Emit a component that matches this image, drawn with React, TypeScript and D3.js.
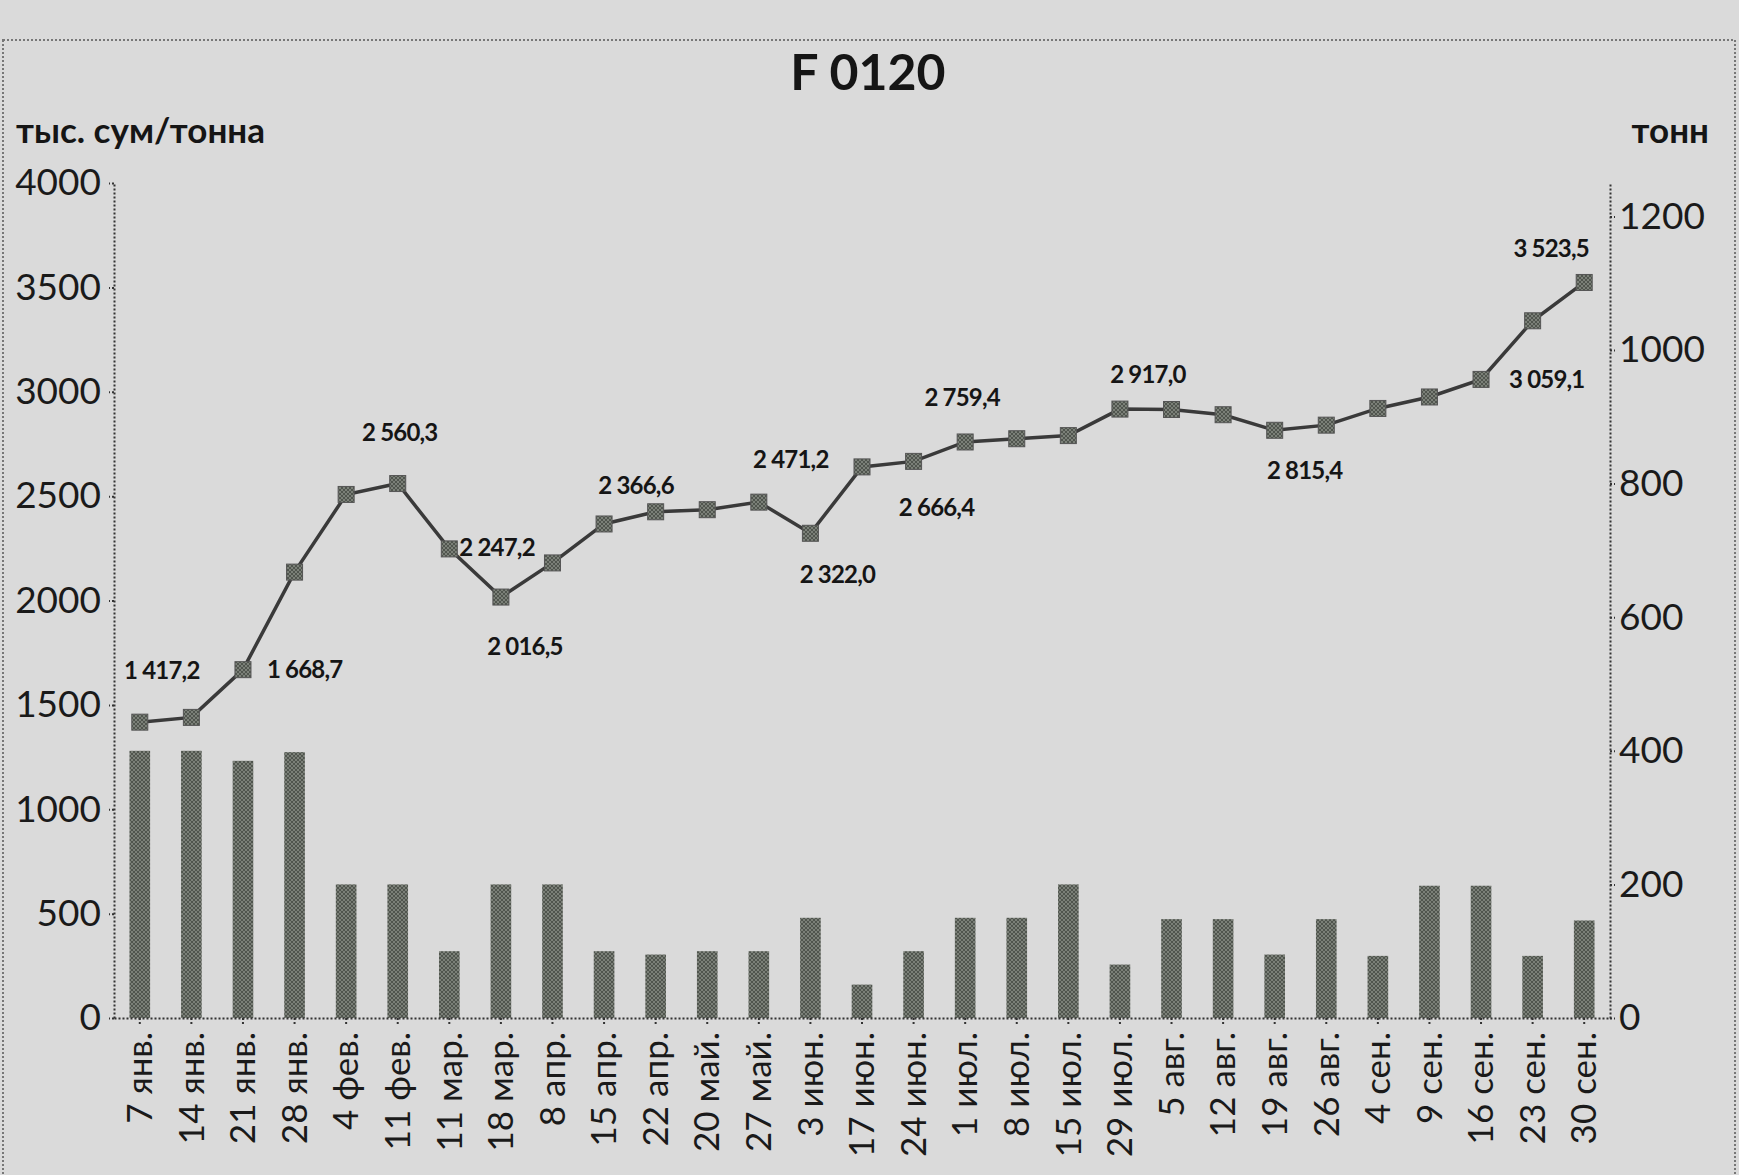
import React, { useRef, useEffect } from 'react';
import * as d3 from 'd3';

// weekly dates (x axis)
const categories = [
  '7 янв.', '14 янв.', '21 янв.', '28 янв.', '4 фев.', '11 фев.', '11 мар.', '18 мар.',
  '8 апр.', '15 апр.', '22 апр.', '20 май.', '27 май.', '3 июн.', '17 июн.', '24 июн.',
  '1 июл.', '8 июл.', '15 июл.', '29 июл.', '5 авг.', '12 авг.', '19 авг.', '26 авг.',
  '4 сен.', '9 сен.', '16 сен.', '23 сен.', '30 сен.',
];

// price, тыс. сум/тонна (left axis)
const prices = [
  1417.2, 1440, 1668.7, 2136, 2508, 2560.3, 2247.2, 2016.5,
  2180, 2366.6, 2425, 2435, 2471.2, 2322.0, 2640, 2666.4,
  2759.4, 2775, 2790, 2917.0, 2915, 2890, 2815.4, 2840,
  2920, 2975, 3059.1, 3340, 3523.5,
];

// volume, тонн (right axis)
const volumes = [
  400, 400, 385, 398, 200, 200, 100, 200,
  200, 100, 95, 100, 100, 150, 50, 100,
  150, 150, 200, 80, 148, 148, 95, 148,
  93, 198, 198, 93, 146,
];

const leftTicks = [0, 500, 1000, 1500, 2000, 2500, 3000, 3500, 4000];
const rightTicks = [0, 200, 400, 600, 800, 1000, 1200];
const labelledPoints = [0, 2, 5, 6, 7, 9, 12, 13, 15, 16, 19, 22, 26, 28];

// where each value label sits relative to its marker
const labelPlacement: Record<number, [number, number, string]> = {
  0: [22, -49, 'middle'],
  2: [24, 2, 'start'],
  5: [2, -49, 'middle'],
  6: [10, 1, 'start'],
  7: [24, 52, 'middle'],
  9: [32, -36, 'middle'],
  12: [32, -40, 'middle'],
  13: [27, 44, 'middle'],
  15: [23, 48, 'middle'],
  16: [-3, -42, 'middle'],
  19: [28, -32, 'middle'],
  22: [30, 43, 'middle'],
  26: [28, 2, 'start'],
  28: [-33, -32, 'middle'],
};

const W = 1739;
const H = 1175;
const FONT = 'Lato, "Open Sans", sans-serif';

function App() {
  const ref = useRef<SVGSVGElement>(null);

  useEffect(() => {
    const svg = d3.select(ref.current);
    svg.selectAll('*').remove();

    const left = 114, right = 1610, top = 183, bottom = 1018;

    const x = d3.scaleBand().domain(categories).range([left, right]).paddingInner(0.6).paddingOuter(0.3);
    const xc = (i: number) => (x(categories[i]) as number) + x.bandwidth() / 2;
    const yL = d3.scaleLinear().domain([0, 4000]).range([bottom, top]);
    const yR = d3.scaleLinear().domain([0, 1250]).range([bottom, top]);

    const loc = d3.formatLocale({ decimal: ',', thousands: ' ', grouping: [3], currency: ['', ''] });
    const fmt = loc.format(',.1f');

    const defs = svg.append('defs');
    const pat = defs.append('pattern').attr('id', 'hatch').attr('width', 4).attr('height', 4)
      .attr('patternUnits', 'userSpaceOnUse');
    pat.append('rect').attr('width', 4).attr('height', 4).attr('fill', '#50554e');
    pat.append('path').attr('d', 'M0,0L4,4M4,0L0,4').attr('stroke', '#7b8078').attr('stroke-width', 1);

    // paper
    svg.append('rect').attr('width', W).attr('height', H).attr('fill', '#dadada');
    svg.append('rect').attr('x', 3).attr('y', 40).attr('width', W - 7).attr('height', H)
      .attr('fill', 'none').attr('stroke', '#777').attr('stroke-width', 2).attr('stroke-dasharray', '2,2');

    // title & axis names
    svg.append('text').attr('x', 868).attr('y', 90).attr('text-anchor', 'middle')
      .attr('font-family', FONT).attr('font-weight', 700).attr('font-size', 50).attr('fill', '#151515').text('F 0120');
    svg.append('text').attr('x', 16).attr('y', 143)
      .attr('font-family', FONT).attr('font-weight', 700).attr('font-size', 35).attr('fill', '#151515').text('тыс. сум/тонна');
    svg.append('text').attr('x', 1709).attr('y', 143).attr('text-anchor', 'end')
      .attr('font-family', FONT).attr('font-weight', 700).attr('font-size', 35).attr('fill', '#151515').text('тонн');

    const styleAxis = (g: any, size: number) => {
      g.selectAll('path.domain, line').attr('stroke', '#333').attr('stroke-width', 2).attr('stroke-dasharray', '2,2');
      g.selectAll('text').attr('font-family', FONT).attr('font-size', size).attr('fill', '#1a1a1a');
    };

    // bars
    svg.append('g').selectAll('rect').data(volumes).join('rect')
      .attr('x', (_, i) => x(categories[i]) as number)
      .attr('y', d => yR(d))
      .attr('width', x.bandwidth())
      .attr('height', d => bottom - yR(d))
      .attr('fill', 'url(#hatch)');

    // axes
    const gl = svg.append('g').attr('transform', `translate(${left},0)`)
      .call(d3.axisLeft(yL).tickValues(leftTicks).tickFormat(d3.format('d')).tickSize(5).tickSizeOuter(0).tickPadding(8));
    styleAxis(gl, 37);
    const gr = svg.append('g').attr('transform', `translate(${right},0)`)
      .call(d3.axisRight(yR).tickValues(rightTicks).tickFormat(d3.format('d')).tickSize(5).tickSizeOuter(0).tickPadding(4));
    styleAxis(gr, 37);
    const gb = svg.append('g').attr('transform', `translate(0,${bottom})`)
      .call(d3.axisBottom(x).tickSize(6).tickSizeOuter(0).tickPadding(0));
    styleAxis(gb, 35);
    gb.selectAll('text')
      .attr('transform', 'rotate(-90)')
      .attr('text-anchor', 'end')
      .attr('dy', '0.35em')
      .attr('dx', '-14px')
      .attr('y', 0)
      .attr('x', 0);

    // price line
    const line = d3.line<number>().x((_, i) => xc(i)).y(d => yL(d));
    svg.append('path').datum(prices).attr('d', line).attr('fill', 'none')
      .attr('stroke', '#3a3a3a').attr('stroke-width', 3.5);

    svg.append('g').selectAll('rect').data(prices).join('rect')
      .attr('x', (_, i) => xc(i) - 8)
      .attr('y', d => yL(d) - 8)
      .attr('width', 16).attr('height', 16)
      .attr('fill', 'url(#hatch)').attr('stroke', '#555').attr('stroke-width', 1);

    // value labels
    svg.append('g').selectAll('text').data(labelledPoints).join('text')
      .attr('x', i => xc(i) + labelPlacement[i][0])
      .attr('y', i => yL(prices[i]) + labelPlacement[i][1])
      .attr('text-anchor', i => labelPlacement[i][2])
      .attr('dominant-baseline', 'middle')
      .attr('font-family', FONT).attr('font-weight', 700).attr('font-size', 24)
      .attr('letter-spacing', -0.8).attr('fill', '#151515')
      .text(i => fmt(prices[i]));

    return () => {
      svg.selectAll('*').remove();
    };
  }, []);

  return (
    <svg ref={ref} width={W} height={H} style={{ position: 'absolute', left: 0, top: 0 }} />
  );
}

export default App;
